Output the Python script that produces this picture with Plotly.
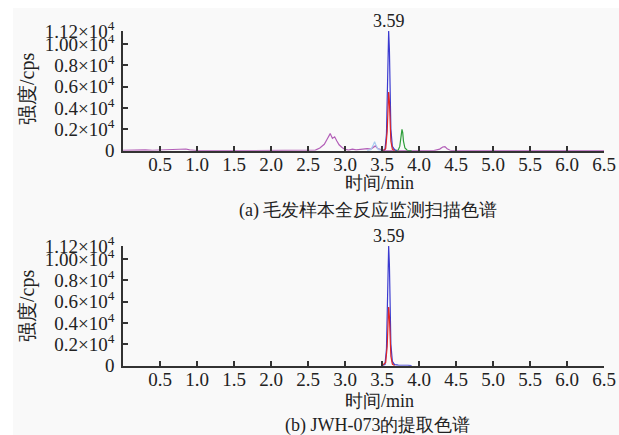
import plotly.graph_objects as go

W, H = 619, 435

# ---------------- data ----------------
# Panel (a): full MRM scan of hair sample
a_blue_t = [3.50, 3.54, 3.56, 3.57, 3.58, 3.59, 3.60, 3.61, 3.62, 3.64, 3.67, 3.70]
a_blue_v = [0, 100, 1500, 5000, 9000, 11200, 9500, 5500, 2000, 400, 100, 0]
a_red_t = [3.52, 3.55, 3.57, 3.58, 3.59, 3.60, 3.61, 3.62, 3.64, 3.67]
a_red_v = [0, 200, 1800, 4200, 5500, 4600, 2500, 900, 150, 0]
a_green_t = [3.68, 3.72, 3.74, 3.75, 3.76, 3.77, 3.78, 3.79, 3.81, 3.84, 3.90]
a_green_v = [0, 60, 400, 1100, 1800, 2000, 1700, 900, 250, 40, 0]
a_purple_t = [0.00, 0.10, 0.20, 0.30, 0.40, 0.50, 0.60, 0.70, 0.78, 0.85, 0.90, 0.95, 1.00,
              1.50, 2.00, 2.50, 2.60, 2.66, 2.72, 2.76, 2.80, 2.83, 2.86, 2.89, 2.92, 2.96,
              3.00, 3.05, 3.10, 3.15, 3.20, 3.25, 3.30, 3.35, 3.38, 3.41, 3.44, 3.48, 3.52,
              3.60, 4.00, 4.20, 4.28, 4.32, 4.35, 4.38, 4.42, 4.50, 5.00, 6.00, 6.50]
a_purple_v = [40, 60, 30, 70, 40, 60, 50, 70, 90, 160, 70, 40, 20,
              0, 0, 0, 60, 250, 600, 1100, 1600, 1150, 1300, 900, 550, 300,
              120, 60, 150, 80, 120, 90, 200, 150, 300, 450, 200, 80, 30,
              0, 0, 0, 150, 350, 380, 180, 40, 0, 0, 0, 0]
a_lblue_t = [3.30, 3.35, 3.38, 3.40, 3.42, 3.45, 3.50]
a_lblue_v = [0, 100, 500, 850, 500, 100, 0]

# Panel (b): extracted chromatogram of JWH-073
b_blue_t = [3.50, 3.54, 3.56, 3.57, 3.58, 3.59, 3.60, 3.61, 3.62, 3.64, 3.67, 3.72, 3.78, 3.85, 3.90]
b_blue_v = [0, 100, 1500, 5000, 9000, 11200, 9500, 5500, 2000, 400, 100, 60, 80, 40, 0]
b_red_t = [3.50, 3.53, 3.55, 3.57, 3.58, 3.59, 3.60, 3.61, 3.62, 3.64, 3.67]
b_red_v = [0, 150, 300, 1800, 4200, 5500, 4600, 2500, 900, 150, 0]

peak_time = 3.59
peak_label = "3.59"

y_tickvals = [0, 2000, 4000, 6000, 8000, 10000, 11200]
y_ticktext = ["0", "0.2×10<sup>4</sup>", "0.4×10<sup>4</sup>", "0.6×10<sup>4</sup>",
              "0.8×10<sup>4</sup>", "1.00×10<sup>4</sup>", "1.12×10<sup>4</sup>"]
x_tickvals = [0.5, 1.0, 1.5, 2.0, 2.5, 3.0, 3.5, 4.0, 4.5, 5.0, 5.5, 6.0, 6.5]
x_ticktext = ["0.5", "1.0", "1.5", "2.0", "2.5", "3.0", "3.5", "4.0", "4.5", "5.0", "5.5", "6.0", "6.5"]

y_title = "强度/cps"
x_title = "时间/min"
caption_a = "(a) 毛发样本全反应监测扫描色谱"
caption_b = "(b) JWH-073的提取色谱"

# ---------------- figure ----------------
FONT = "Liberation Serif, Times New Roman, DejaVu Serif, serif"
TXT = "#222222"
BLUE, RED, GREEN, PURPLE, LBLUE = "#3b3bd0", "#e02424", "#2e9e3a", "#b35fb8", "#a9cdf0"

fig = go.Figure()

def add(t, v, color, xa, ya, w=1.2):
    fig.add_trace(go.Scatter(x=t, y=v, mode="lines", line=dict(color=color, width=w),
                             xaxis=xa, yaxis=ya, showlegend=False, hoverinfo="skip"))

add(a_purple_t, a_purple_v, PURPLE, "x", "y")
add(a_lblue_t, a_lblue_v, LBLUE, "x", "y")
add(a_green_t, a_green_v, GREEN, "x", "y")
add(a_blue_t, a_blue_v, BLUE, "x", "y")
add(a_red_t, a_red_v, RED, "x", "y")

add(b_blue_t, b_blue_v, BLUE, "x2", "y2")
add(b_red_t, b_red_v, RED, "x2", "y2")

x0, x1 = 123 / W, 604 / W
ya_dom = [1 - 150.7 / H, 1 - 30.5 / H]
yb_dom = [1 - 365.7 / H, 1 - 245.5 / H]

axcommon = dict(showline=True, linecolor="#333333", linewidth=1.5, ticks="inside",
                ticklen=5, tickwidth=1.5, tickcolor="#333333", showgrid=False,
                zeroline=False, automargin=False,
                tickfont=dict(family=FONT, size=19, color=TXT))

xax = dict(axcommon, range=[0, 6.5], tickvals=x_tickvals, ticktext=x_ticktext, domain=[x0, x1],
           ticklabelstandoff=-4)
yax = dict(axcommon, range=[0, 11250], tickvals=y_tickvals, ticktext=y_ticktext, ticklabelstandoff=3)

fig.update_layout(
    width=W, height=H,
    margin=dict(l=0, r=0, t=0, b=0, autoexpand=False),
    paper_bgcolor="white", plot_bgcolor="rgba(0,0,0,0)",
    font=dict(family=FONT, size=18, color=TXT),
    xaxis=dict(xax, anchor="y"),
    yaxis=dict(yax, domain=ya_dom, anchor="x"),
    xaxis2=dict(xax, anchor="y2"),
    yaxis2=dict(yax, domain=yb_dom, anchor="x2"),
    shapes=[dict(type="rect", xref="paper", yref="paper", x0=13 / W, x1=1, y0=0, y1=1 - 8 / H,
                 fillcolor="#f9f9f9", line=dict(width=0), layer="below")],
)

ann = []
def text(x, y, s, size=18, angle=0):
    ann.append(dict(x=x, y=y, xref="paper", yref="paper", text=s, showarrow=False,
                    font=dict(family=FONT, size=size, color=TXT), textangle=angle,
                    xanchor="center", yanchor="middle"))

# peak labels (data coordinates)
for xr, yr in (("x", "y"), ("x2", "y2")):
    ann.append(dict(x=peak_time, y=11200, xref=xr, yref=yr, text=peak_label, showarrow=False,
                    yanchor="bottom", yshift=-2, font=dict(family=FONT, size=18, color=TXT)))

text(27 / W, 1 - 89 / H, y_title, size=20, angle=-90)
text(27 / W, 1 - 306 / H, y_title, size=20, angle=-90)
text(380 / W, 1 - 183 / H, x_title)
text(380 / W, 1 - 401 / H, x_title)
text(368 / W, 1 - 210 / H, caption_a)
text(377 / W, 1 - 425 / H, caption_b)

fig.update_layout(annotations=ann)
fig.write_html("out.html", config={"displayModeBar": False},
               post_script="document.documentElement.style.margin='0';document.documentElement.style.padding='0';"
                           "document.documentElement.style.overflow='hidden';"
                           "document.body.style.margin='0';document.body.style.padding='0';"
                           "document.body.style.overflow='hidden';")
